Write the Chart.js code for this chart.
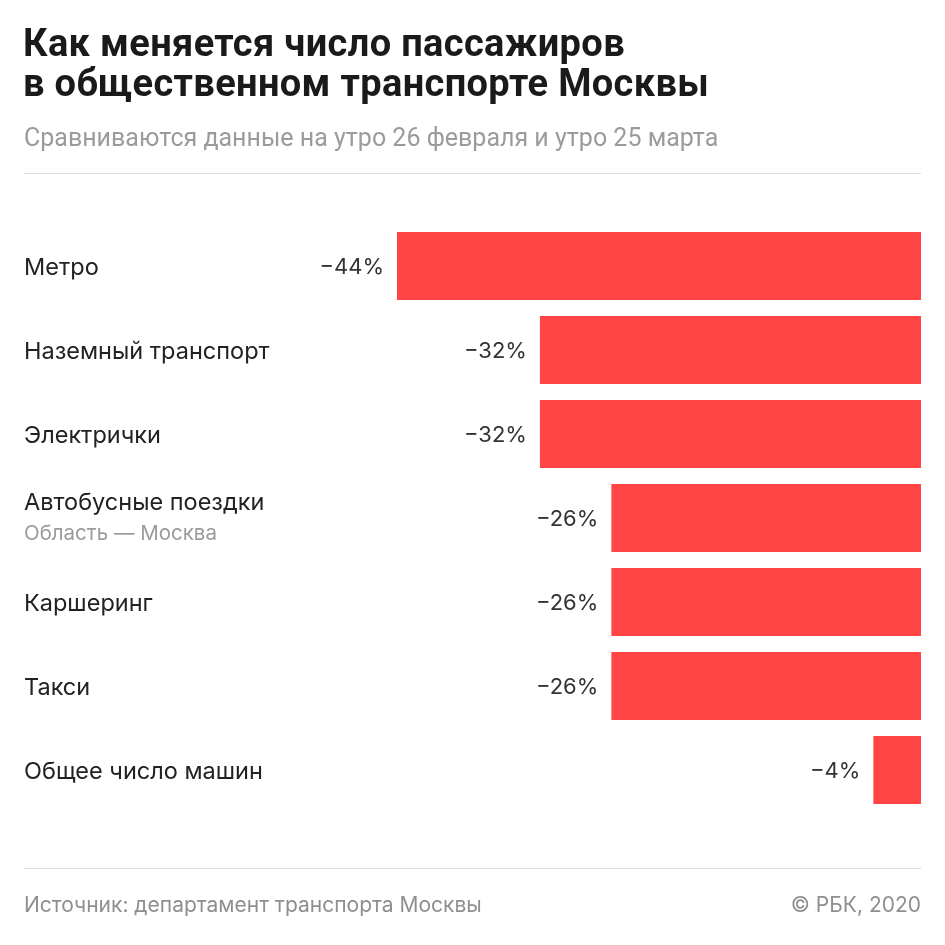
<!DOCTYPE html>
<html lang="ru">
<head>
<meta charset="utf-8">
<title>Как меняется число пассажиров в общественном транспорте Москвы</title>
<script src="https://cdn.jsdelivr.net/npm/chart.js@4.4.1/dist/chart.umd.min.js"></script>
<style>
    body {
        margin: 0;
        background: #fff;
    }
    .page {
        position: relative;
        width: 945px;
        height: 945px;
        overflow: hidden;
        font-family: Inter, "Noto Sans", sans-serif;
    }
    .page canvas {
        position: absolute;
        left: 0;
        top: 0;
    }
    h1 {
        position: absolute;
        left: 23px;
        top: 23px;
        margin: 0;
        font: 700 38px/40px Roboto, sans-serif;
        letter-spacing: 0.35px;
        color: #1a1a1a;
    }
    .subtitle {
        position: absolute;
        left: 24px;
        top: 125px;
        margin: 0;
        font: 400 25px/26px Roboto, sans-serif;
        color: #9b9b9b;
    }
    .rule {
        position: absolute;
        left: 24px;
        width: 897px;
        height: 1px;
        background: #dedede;
    }
    .footer {
        position: absolute;
        top: 892px;
        font: 400 21px/26px Inter, sans-serif;
        color: #8f8f8f;
    }
</style>
</head>
<body>
<div class="page">
    <canvas id="chart" width="945" height="945"></canvas>
    <h1>Как меняется число пассажиров<br>в общественном транспорте Москвы</h1>
    <p class="subtitle">Сравниваются данные на утро 26 февраля и утро 25 марта</p>
    <div class="rule" style="top: 173px;"></div>
    <div class="rule" style="top: 868px;"></div>
    <div class="footer" style="left: 24px;">Источник: департамент транспорта Москвы</div>
    <div class="footer" style="right: 24px;">© РБК, 2020</div>
</div>

<script>
// Change in passengers, %: morning of 26 Feb vs morning of 25 Mar
const categories = ['Метро', 'Наземный транспорт', 'Электрички', 'Автобусные поездки', 'Каршеринг', 'Такси', 'Общее число машин'];
const subLabels = ['', '', '', 'Область — Москва', '', '', ''];
const changes = [-44, -32, -32, -26, -26, -26, -4];

const barColor = '#ff4545';

function formatChange(v) {
    return '\u2212' + Math.abs(v) + '%';
}

// category names on the left, values next to the end of each bar
const labelsPlugin = {
    id: 'rowLabels',
    afterDatasetsDraw(chart) {
        const ctx = chart.ctx;
        const x = chart.scales.x;
        const y = chart.scales.y;

        ctx.save();
        ctx.textBaseline = 'middle';

        categories.forEach((name, i) => {
            const cy = y.getPixelForValue(i);
            const sub = subLabels[i];

            ctx.textAlign = 'left';
            ctx.fillStyle = '#222';
            ctx.font = '400 23.5px Inter, sans-serif';
            ctx.fillText(name, 24, sub ? cy - 15 : cy + 2);

            if (sub) {
                ctx.fillStyle = '#9b9b9b';
                ctx.font = '400 20.5px Inter, sans-serif';
                ctx.fillText(sub, 24, cy + 16);
            }

            ctx.textAlign = 'right';
            ctx.fillStyle = '#333';
            ctx.font = '400 22px Inter, sans-serif';
            ctx.fillText(formatChange(changes[i]), x.getPixelForValue(changes[i]) - 13, cy + 1);
        });

        ctx.restore();
    }
};

new Chart(document.getElementById('chart'), {
    type: 'bar',
    data: {
        labels: categories,
        datasets: [{
            data: changes,
            backgroundColor: barColor,
            borderWidth: 0,
            categoryPercentage: 1,
            barPercentage: 0.81
        }]
    },
    options: {
        indexAxis: 'y',
        responsive: false,
        animation: false,
        layout: {
            padding: { left: 397, right: 24, top: 224, bottom: 133 }
        },
        scales: {
            x: { min: -44, max: 0, display: false },
            y: { display: false }
        },
        plugins: {
            legend: { display: false },
            tooltip: { enabled: false }
        }
    },
    plugins: [labelsPlugin]
});
</script>
</body>
</html>
